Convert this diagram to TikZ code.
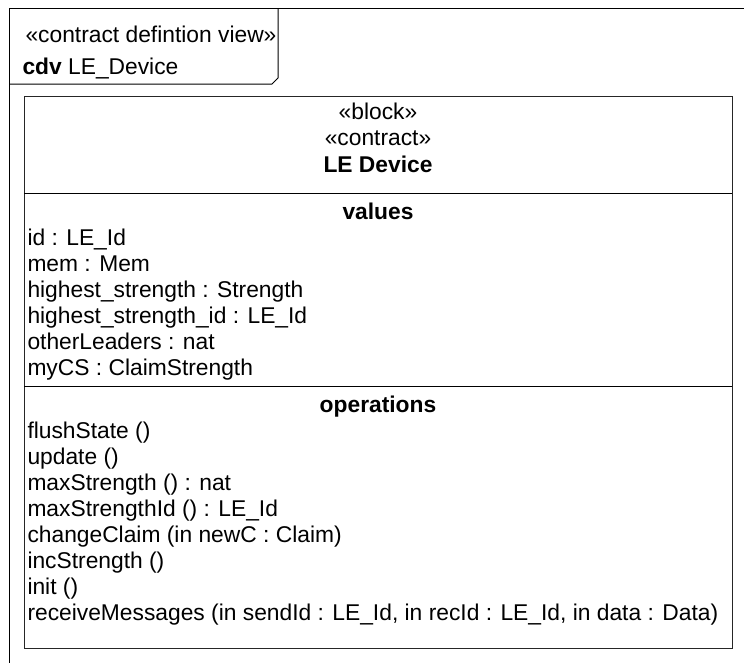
\documentclass[tikz,border=0pt]{standalone}
\usepackage{fontspec}
\setmainfont{Liberation Sans}
\begin{document}
\begin{tikzpicture}[x=1pt,y=-1pt,line width=1pt,
  txt/.style={inner sep=0pt,anchor=base west,font=\fontsize{22.8}{26}\selectfont},
  ctxt/.style={inner sep=0pt,anchor=base,font=\fontsize{22.8}{26}\selectfont},
  blockbox/.style={draw=black!85,line width=1.2pt,inner sep=0pt,anchor=north west,minimum width=708pt,minimum height=552pt},
  sepline/.style={draw=black,line width=1pt}]
\useasboundingbox (0,0) rectangle (744,662);
% frame
\coordinate (ftr) at (746,8);
\coordinate (ftl) at (9,8);
\coordinate (fbl) at (9,664);
\draw (ftr) -- (ftl) -- (fbl);
\coordinate (tabbl) at (9,84);
\coordinate (tabc1) at (272,84);
\coordinate (tabc2) at (278,78);
\coordinate (tabtr) at (278,8);
\draw (tabbl) -- (tabc1) -- (tabc2) -- (tabtr);
\node[txt] (fstereo) at (25,42.5) {«contract defintion view»};
\node[txt] (fname) at (22,74.5) {\textbf{cdv} LE\_Device};
% block
\node[blockbox] (blk) at (24,96) {};
\coordinate (s1l) at (24,193); \coordinate (s1r) at (732,193);
\coordinate (s2l) at (24,386); \coordinate (s2r) at (732,386);
\draw[sepline] (s1l) -- (s1r);
\draw[sepline] (s2l) -- (s2r);
\node[ctxt] (st1) at (378,119.5) {«block»};
\node[ctxt] (st2) at (378,145.5) {«contract»};
\node[ctxt] (bname) at (378,172.5) {\textbf{LE Device}};
\node[ctxt] (vals) at (378,219.5) {\textbf{values}};
\node[txt] (v1) at (27,245.5) {id : LE\_Id};
\node[txt] (v2) at (27,271.5) {mem : Mem};
\node[txt] (v3) at (27,297.5) {highest\_strength : Strength};
\node[txt] (v4) at (27,323.5) {highest\_strength\_id : LE\_Id};
\node[txt] (v5) at (27,349.5) {otherLeaders : nat};
\node[txt] (v6) at (27,375.5) {myCS : ClaimStrength};
\node[ctxt] (ops) at (378,412.5) {\textbf{operations}};
\node[txt] (o1) at (27,438.5) {flushState ()};
\node[txt] (o2) at (27,464.5) {update ()};
\node[txt] (o3) at (27,490.5) {maxStrength () : nat};
\node[txt] (o4) at (27,516.5) {maxStrengthId () : LE\_Id};
\node[txt] (o5) at (27,542.5) {changeClaim (in newC : Claim)};
\node[txt] (o6) at (27,568.5) {incStrength ()};
\node[txt] (o7) at (27,594.5) {init ()};
\node[txt] (o8) at (27,620.5) {receiveMessages (in sendId : LE\_Id, in recId : LE\_Id, in data : Data)};
\end{tikzpicture}
\end{document}
